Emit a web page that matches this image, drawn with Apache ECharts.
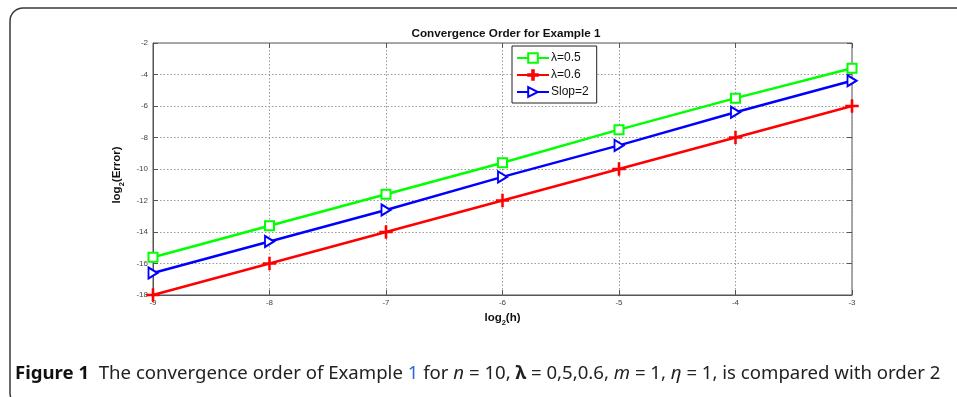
<!DOCTYPE html>
<html><head><meta charset="utf-8">
<script src="https://cdn.jsdelivr.net/npm/echarts@6/dist/echarts.min.js"></script>
<style>html,body{margin:0;padding:0;background:#fff;}#c{width:957px;height:397px;}</style>
</head><body><div id="c"></div>
<script>
const logH = [-9, -8, -7, -6, -5, -4, -3];
const lambda05 = [-15.6, -13.6, -11.6, -9.6, -7.5, -5.5, -3.6];
const lambda06 = [-18, -16, -14, -12, -10, -8, -6];
const slope2 = [-16.6, -14.6, -12.6, -10.5, -8.5, -6.4, -4.4];
const seriesNames = ['λ=0.5', 'λ=0.6', 'Slop=2'];
const titleText = 'Convergence Order for Example 1';

const chart = echarts.init(document.getElementById('c'));
const F = 'Liberation Sans, Arial, sans-serif';
const pair = (ys) => logH.map((x, i) => [x, ys[i]]);
const tickLbl = {fontSize: 8, color: '#444', fontFamily: F};
const gridLine = {show: true, lineStyle: {type: [1.5, 2], color: '#9a9a9a', width: 1}};
const axisL = {show: true, lineStyle: {color: '#555', width: 1}};
const tick = {show: true, inside: true, length: 5, lineStyle: {color: '#555'}};
const CF = 'Noto Sans';
const CS = 18.6;

chart.setOption({
  animation: false,
  backgroundColor: '#fff',
  title: {text: titleText, left: 501, textAlign: 'center', top: 23,
    textStyle: {fontSize: 11.7, fontWeight: 'bold', color: '#111', fontFamily: F}},
  grid: {left: 153, right: 105, top: 43, bottom: 102, show: true, borderColor: '#555', borderWidth: 1, backgroundColor: '#fff'},
  legend: {
    left: 512, top: 46, orient: 'vertical', width: 84,
    backgroundColor: '#fff', borderColor: '#222', borderWidth: 1, borderRadius: 0,
    padding: [6, 8, 5, 4], itemGap: 5, itemWidth: 32, itemHeight: 12,
    textStyle: {fontSize: 12, color: '#111', fontFamily: F, padding: [0, 0, 0, -3]},
    data: seriesNames
  },
  xAxis: [{
    type: 'value', min: -9, max: -3, interval: 1,
    name: '{a|log}{s|2}{a|(h)}', nameLocation: 'middle', nameGap: 17,
    nameTextStyle: {rich: {a: {fontSize: 11.5, fontWeight: 'bold', color: '#111', fontFamily: F, verticalAlign: 'top', lineHeight: 14},
      s: {fontSize: 7.5, fontWeight: 'bold', color: '#111', fontFamily: F, verticalAlign: 'top', lineHeight: 14, padding: [7, 0, 0, 0]}}},
    axisLine: axisL, axisTick: tick, splitLine: gridLine,
    axisLabel: Object.assign({margin: 4}, tickLbl)
  }, {
    type: 'value', min: -9, max: -3, interval: 1, position: 'top',
    axisLine: {show: false}, axisTick: tick, splitLine: {show: false}, axisLabel: {show: false}
  }],
  yAxis: [{
    type: 'value', min: -18, max: -2, interval: 2,
    name: '{a|log}{s|2}{a|(Error)}', nameLocation: 'middle', nameGap: 21, nameRotate: 90,
    nameTextStyle: {padding: [0, 12, 0, 0], rich: {a: {fontSize: 11.5, fontWeight: 'bold', color: '#111', fontFamily: F, verticalAlign: 'top', lineHeight: 14},
      s: {fontSize: 7.5, fontWeight: 'bold', color: '#111', fontFamily: F, verticalAlign: 'top', lineHeight: 14, padding: [7, 0, 0, 0]}}},
    axisLine: axisL, axisTick: tick, splitLine: gridLine,
    axisLabel: Object.assign({margin: 5}, tickLbl)
  }, {
    type: 'value', min: -18, max: -2, interval: 2, position: 'right',
    axisLine: {show: false}, axisTick: tick, splitLine: {show: false}, axisLabel: {show: false}
  }],
  series: [
    {name: seriesNames[0], type: 'line', data: pair(lambda05), symbol: 'rect', symbolSize: 9,
      lineStyle: {color: '#00ff00', width: 2.5},
      itemStyle: {color: '#ffffff', borderColor: '#00ff00', borderWidth: 2}, z: 3},
    {name: seriesNames[1], type: 'line', data: pair(lambda06),
      symbol: 'path://M4.2,0H5.8V4.2H10V5.8H5.8V10H4.2V5.8H0V4.2H4.2Z', symbolSize: 13, symbolKeepAspect: true,
      lineStyle: {color: '#ff0000', width: 2.5},
      itemStyle: {color: '#ff0000', borderColor: '#ff0000', borderWidth: 0.5}, z: 3},
    {name: seriesNames[2], type: 'line', data: pair(slope2),
      symbol: 'path://M0,0L10,5L0,10Z', symbolSize: [9, 11],
      lineStyle: {color: '#0000ff', width: 2.5},
      itemStyle: {color: '#ffffff', borderColor: '#0000ff', borderWidth: 2}, z: 3}
  ],
  graphic: [
    {type: 'rect', shape: {x: 10, y: 8, width: 970, height: 398, r: 13}, silent: true, z: -10,
      style: {fill: 'none', stroke: '#3a3a3a', lineWidth: 1.5}},
    {type: 'text', left: 15, top: 364, z: 10,
      style: {
        text: '{b|Figure 1}{r|  The convergence order of Example }{l|1}{r| for }{i|n}{r| = 10, }{lb|λ}{r| = 0,5,0.6, }{i|m}{r| = 1, }{i|η}{r| = 1, is compared with order 2}',
        rich: {
          b: {fontSize: CS, fontWeight: 'bold', fontFamily: CF, fill: '#111'},
          r: {fontSize: CS, fontFamily: CF, fill: '#222'},
          l: {fontSize: CS, fontFamily: CF, fill: '#2a6ad8'},
          i: {fontSize: CS, fontStyle: 'italic', fontFamily: CF, fill: '#222'},
          lb: {fontSize: CS, fontWeight: 'bold', fontFamily: CF, fill: '#222'}
        }
      }}
  ]
});
</script></body></html>
